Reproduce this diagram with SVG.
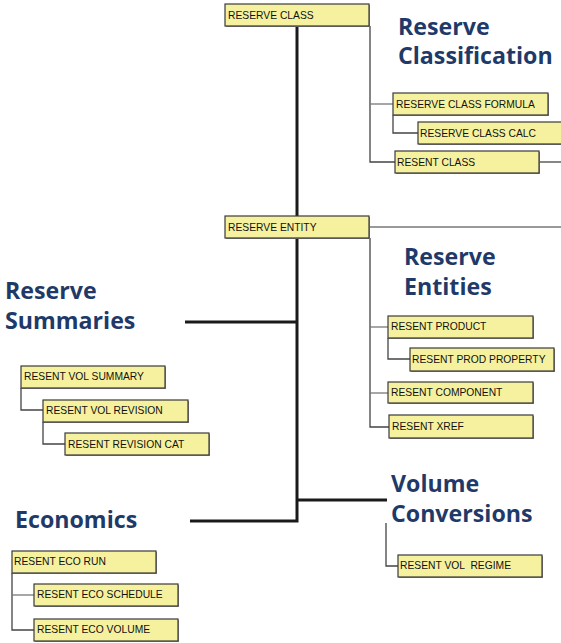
<svg xmlns="http://www.w3.org/2000/svg" width="561" height="643" viewBox="0 0 561 643">
<style>
.box{fill:#f6f19e;stroke:#3a3a3a;stroke-width:1.2}
.sh{fill:#8a8a8a}
.bt{font-family:"Liberation Sans",Arial,sans-serif;font-size:10.3px;fill:#111}
.ttl{font-family:"Open Sans","Noto Sans",sans-serif;font-weight:bold;font-size:23.2px;fill:#1f3a68}
.trunk{stroke:#1a1a1a;stroke-width:3;fill:none}
.c{stroke:#444;stroke-width:1.3;fill:none}
.cl{stroke:#777;stroke-width:1.3;fill:none}
</style>
<rect width="561" height="643" fill="#fff"/>
<g id="connectors">
<path class="trunk" d="M297 26 V521 H190"/>
<path class="trunk" d="M185 322 H297"/>
<path class="trunk" d="M297 500 H387"/>
<path class="c" d="M370 26 V162 H395"/>
<path class="cl" d="M370 104 H393"/>
<path class="c" d="M393 115 V133 H418"/>
<path class="c" d="M539 162 H561"/>
<path class="cl" d="M369 227 H561"/>
<path class="c" d="M370 238 V427 H389"/>
<path class="cl" d="M370 327 H388"/>
<path class="cl" d="M370 393 H388"/>
<path class="c" d="M388 338 V359 H410"/>
<path class="c" d="M21 388 V410 H43"/>
<path class="c" d="M43 422 V444 H65"/>
<path class="c" d="M12 573 V630 H34"/>
<path class="cl" d="M12 595 H34"/>
<path class="c" d="M386 523 V566 H398"/>
</g>
<g id="title-reserve-classification"><text class="ttl" x="398" y="35">Reserve</text><text class="ttl" x="398" y="64">Classification</text></g>
<g id="title-reserve-entities"><text class="ttl" x="404" y="265">Reserve</text><text class="ttl" x="404" y="295">Entities</text></g>
<g id="title-reserve-summaries"><text class="ttl" x="5" y="299">Reserve</text><text class="ttl" x="5" y="329">Summaries</text></g>
<g id="title-economics"><text class="ttl" x="15" y="528">Economics</text></g>
<g id="title-volume-conversions"><text class="ttl" x="391" y="492">Volume</text><text class="ttl" x="391" y="522">Conversions</text></g>
<g id="reserve-class"><rect class="sh" x="226" y="5" width="144" height="22"/><rect class="box" x="225" y="4" width="144" height="22"/><text class="bt" x="228" y="19">RESERVE CLASS</text></g>
<g id="reserve-class-formula"><rect class="sh" x="394" y="94" width="155" height="22"/><rect class="box" x="393" y="93" width="155" height="22"/><text class="bt" x="396" y="108">RESERVE CLASS FORMULA</text></g>
<g id="reserve-class-calc"><rect class="sh" x="419" y="123" width="145" height="22"/><rect class="box" x="418" y="122" width="145" height="22"/><text class="bt" x="420" y="137">RESERVE CLASS CALC</text></g>
<g id="resent-class"><rect class="sh" x="396" y="152" width="144" height="22"/><rect class="box" x="395" y="151" width="144" height="22"/><text class="bt" x="397" y="166">RESENT CLASS</text></g>
<g id="reserve-entity"><rect class="sh" x="226" y="217" width="144" height="22"/><rect class="box" x="225" y="216" width="144" height="22"/><text class="bt" x="228" y="231">RESERVE ENTITY</text></g>
<g id="resent-product"><rect class="sh" x="389" y="317" width="145" height="22"/><rect class="box" x="388" y="316" width="145" height="22"/><text class="bt" x="391" y="330">RESENT PRODUCT</text></g>
<g id="resent-prod-property"><rect class="sh" x="411" y="349" width="144" height="23"/><rect class="box" x="410" y="348" width="144" height="23"/><text class="bt" x="412" y="363">RESENT PROD PROPERTY</text></g>
<g id="resent-component"><rect class="sh" x="389" y="383" width="145" height="21"/><rect class="box" x="388" y="382" width="145" height="21"/><text class="bt" x="391" y="396">RESENT COMPONENT</text></g>
<g id="resent-xref"><rect class="sh" x="390" y="416" width="144" height="23"/><rect class="box" x="389" y="415" width="144" height="23"/><text class="bt" x="392" y="430">RESENT XREF</text></g>
<g id="resent-vol-summary"><rect class="sh" x="22" y="367" width="144" height="22"/><rect class="box" x="21" y="366" width="144" height="22"/><text class="bt" x="24" y="380">RESENT VOL SUMMARY</text></g>
<g id="resent-vol-revision"><rect class="sh" x="44" y="401" width="145" height="22"/><rect class="box" x="43" y="400" width="145" height="22"/><text class="bt" x="46" y="414">RESENT VOL REVISION</text></g>
<g id="resent-revision-cat"><rect class="sh" x="66" y="434" width="144" height="22"/><rect class="box" x="65" y="433" width="144" height="22"/><text class="bt" x="68" y="448">RESENT REVISION CAT</text></g>
<g id="resent-eco-run"><rect class="sh" x="13" y="552" width="144" height="22"/><rect class="box" x="12" y="551" width="144" height="22"/><text class="bt" x="14" y="565">RESENT ECO RUN</text></g>
<g id="resent-eco-schedule"><rect class="sh" x="35" y="585" width="144" height="22"/><rect class="box" x="34" y="584" width="144" height="22"/><text class="bt" x="37" y="598">RESENT ECO SCHEDULE</text></g>
<g id="resent-eco-volume"><rect class="sh" x="35" y="620" width="144" height="22"/><rect class="box" x="34" y="619" width="144" height="22"/><text class="bt" x="37" y="633">RESENT ECO VOLUME</text></g>
<g id="resent-vol-regime"><rect class="sh" x="399" y="556" width="144" height="22"/><rect class="box" x="398" y="555" width="144" height="22"/><text class="bt" x="400" y="569" xml:space="preserve">RESENT VOL  REGIME</text></g>
</svg>
